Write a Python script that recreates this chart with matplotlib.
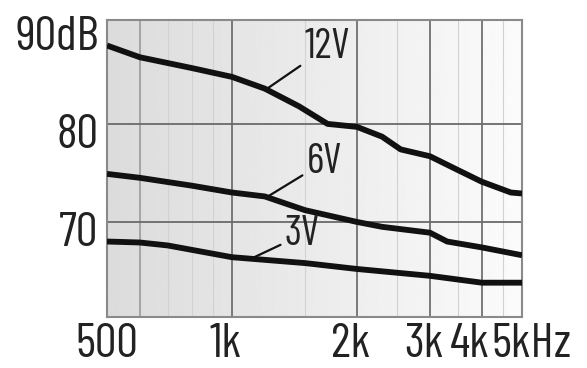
import numpy as np
import matplotlib.pyplot as plt
import matplotlib.transforms as mtransforms

# values (Hz, dB)
f_12v = [500, 600, 800, 1000, 1200, 1450, 1700, 2000, 2300, 2550, 3000, 3500, 4000, 4700, 5000]
db_12v = [88.0, 86.8, 85.7, 84.8, 83.6, 81.8, 80.0, 79.7, 78.7, 77.4, 76.7, 75.3, 74.1, 73.0, 72.9]

f_6v = [500, 600, 800, 1000, 1200, 1500, 2000, 2300, 3000, 3300, 4000, 5000]
db_6v = [74.9, 74.5, 73.7, 73.0, 72.6, 71.2, 70.0, 69.5, 68.9, 68.0, 67.4, 66.6]

f_3v = [500, 600, 700, 1000, 1500, 2000, 3000, 4000, 5000]
db_3v = [68.0, 67.9, 67.6, 66.4, 65.8, 65.2, 64.5, 63.8, 63.8]

x_ticks = [500, 1000, 2000, 3000, 4000, 5000]
x_labels = ['500', '1k', '2k', '3k', '4k', '5kHz']
y_ticks = [70, 80, 90]
y_labels = ['70', '80', '90dB']

# curve labels: (text, text position, point on curve)
curve_labels = [
    ('12V', (1695, 87.8), (1216, 83.6)),
    ('6V', (1667, 76.1), (1221, 72.6)),
    ('3V', (1476, 68.7), (1106, 66.2)),
]

plt.rcParams['font.family'] = ['Barlow Condensed', 'DejaVu Sans']

fig = plt.figure(figsize=(5.87, 3.68), dpi=100)
ax = fig.add_axes([0.1823, 0.1386, 0.707, 0.807])

# grey-to-white background gradient
grad = np.linspace(0.86, 0.985, 256).reshape(1, -1)
ax.imshow(grad, extent=[0, 1, 0, 1], transform=ax.transAxes, cmap='gray',
          vmin=0, vmax=1, aspect='auto', zorder=0)

ax.set_xscale('log')
ax.set_xlim(500, 5000)
ax.set_ylim(60.3, 90.6)

# grid
for f in [700, 800, 900, 1500, 2500, 3500, 4500]:
    ax.axvline(f, color='#d2d2d2', lw=0.8, zorder=1)
ax.axvline(600, color='#a0a0a0', lw=1.3, zorder=1)
for f in [1000, 2000, 3000, 4000]:
    ax.axvline(f, color='#707070', lw=1.3, zorder=1)
for v in [70, 80]:
    ax.axhline(v, color='#6a6a6a', lw=1.3, zorder=1)

for fs, dbs in [(f_12v, db_12v), (f_6v, db_6v), (f_3v, db_3v)]:
    ax.plot(fs, dbs, color='#111111', lw=4.2, solid_capstyle='butt',
            solid_joinstyle='round', zorder=3)

for txt, tpos, cpos in curve_labels:
    ax.annotate(txt, xy=cpos, xytext=tpos, fontsize=30, color='#222222',
                ha='center', va='center', zorder=4,
                arrowprops=dict(arrowstyle='-', color='#111111', lw=1.6,
                                shrinkA=1, shrinkB=0))

for s in ax.spines.values():
    s.set_color('#8a8a8a')
    s.set_linewidth(1.5)

ax.minorticks_off()
ax.set_xticks(x_ticks)
ax.set_xticklabels(x_labels)
ax.set_yticks(y_ticks)
ax.set_yticklabels(y_labels)
ax.tick_params(length=0, labelsize=35, colors='#222222')
ax.tick_params(axis='x', pad=4)
ax.tick_params(axis='y', pad=6)

ylab_off = mtransforms.ScaledTranslation(0, -7 / 100, fig.dpi_scale_trans)
for lab in ax.get_yticklabels():
    lab.set_transform(lab.get_transform() + ylab_off)


def shift(lab, dx):
    lab.set_transform(lab.get_transform() +
                      mtransforms.ScaledTranslation(dx / 100, 0, fig.dpi_scale_trans))


xlabs = ax.get_xticklabels()
for lab in xlabs[1:4]:
    shift(lab, -6)
xlabs[4].set_ha('right')
shift(xlabs[4], 8)
xlabs[5].set_ha('left')
shift(xlabs[5], -31)

fig.savefig('out.png', dpi=100)
